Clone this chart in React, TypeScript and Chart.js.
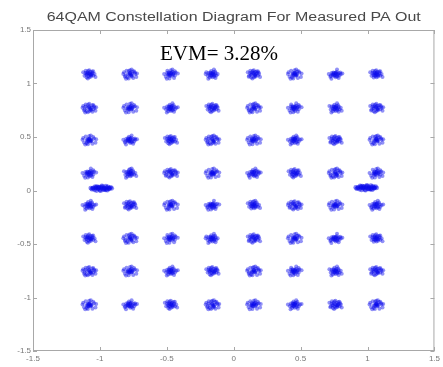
import { useEffect, useRef } from "react";
import { Chart, registerables } from "chart.js";

Chart.register(...registerables);

const TITLE = "64QAM Constellation Diagram For Measured PA Out";
const EVM_LABEL = "EVM= 3.28%";

const X_TICKS = [-1.5, -1, -0.5, 0, 0.5, 1, 1.5];
const Y_TICKS = [-1.5, -1, -0.5, 0, 0.5, 1, 1.5];

// In-phase (I) and quadrature (Q) cluster centres
const I_LEVELS = [-1.08, -0.775, -0.47, -0.16, 0.15, 0.455, 0.76, 1.065];
const Q_LEVELS = [1.085, 0.77, 0.47, 0.16, -0.14, -0.45, -0.755, -1.07];

// measured scatter around each symbol (hand-read offsets)
const NOISE: [number, number][] = [
  [0.004, 0.006], [-0.012, 0.010], [0.018, -0.004], [-0.006, -0.015], [0.025, 0.012],
  [-0.022, -0.003], [0.009, 0.022], [-0.015, 0.018], [0.031, -0.011], [-0.028, 0.014],
  [0.002, -0.026], [0.014, -0.019], [-0.035, -0.012], [0.040, 0.004], [-0.008, 0.032],
  [0.021, 0.027], [-0.019, -0.029], [0.006, 0.000], [-0.003, 0.008], [0.011, -0.008],
  [-0.045, 0.020], [0.047, -0.024], [0.000, 0.040], [-0.026, 0.034], [0.030, 0.030],
  [-0.010, -0.038], [0.016, 0.003], [-0.017, 0.001], [0.036, 0.017], [-0.038, -0.022],
  [0.007, -0.012], [-0.001, 0.015], [0.052, 0.009], [-0.050, 0.004], [0.024, -0.034],
  [-0.030, -0.040], [0.012, 0.045], [-0.006, -0.006], [0.003, 0.013], [-0.014, -0.010],
];

// two elongated extra clusters near I = ±1, Q = 0
const EXTRA_CENTERS: [number, number][] = [[-0.99, 0.02], [0.99, 0.025]];
const EXTRA_NOISE: [number, number][] = [
  [0.000, 0.000], [0.020, 0.004], [-0.020, -0.003], [0.040, 0.006], [-0.040, 0.002],
  [0.060, -0.004], [-0.060, 0.005], [0.070, 0.010], [-0.070, -0.008], [0.010, 0.016],
  [-0.010, -0.016], [0.030, -0.014], [-0.030, 0.015], [0.050, 0.014], [-0.050, -0.013],
  [0.015, -0.010], [-0.015, 0.011], [0.062, 0.002], [-0.062, -0.001], [0.045, -0.017],
  [-0.045, 0.017], [0.005, 0.022], [-0.005, -0.022], [0.078, 0.000], [-0.078, 0.003],
  [0.035, 0.020], [-0.035, -0.020], [0.025, 0.000], [-0.025, 0.000], [0.055, 0.000],
  [0.000, 0.010], [0.020, -0.010], [-0.020, 0.010], [0.040, -0.008], [-0.040, 0.008],
];

const POINTS_PER_SYMBOL = 28;

function buildSymbols() {
  const pts: { x: number; y: number }[] = [];
  Q_LEVELS.forEach((q, r) => {
    I_LEVELS.forEach((i, c) => {
      const k = r * I_LEVELS.length + c;
      for (let j = 0; j < POINTS_PER_SYMBOL; j++) {
        const off = NOISE[(k * 11 + j) % NOISE.length];
        pts.push({ x: i + off[0], y: q + off[1] });
      }
    });
  });
  return pts;
}

function buildExtra() {
  const pts: { x: number; y: number }[] = [];
  EXTRA_CENTERS.forEach(([cx, cy]) => {
    EXTRA_NOISE.forEach(([dx, dy]) => pts.push({ x: cx + dx, y: cy + dy }));
  });
  return pts;
}

const framePlugin = {
  id: "frame",
  afterDatasetsDraw(chart: any) {
    const { ctx, chartArea: a, scales } = chart;
    ctx.save();
    ctx.strokeStyle = "#a8a8a8";
    ctx.lineWidth = 1;
    ctx.strokeRect(a.left + 0.5, a.top + 0.5, a.right - a.left - 1, a.bottom - a.top - 1);
    const len = 4;
    ctx.beginPath();
    X_TICKS.forEach((v) => {
      const x = Math.round(scales.x.getPixelForValue(v)) + 0.5;
      ctx.moveTo(x, a.bottom);
      ctx.lineTo(x, a.bottom - len);
      ctx.moveTo(x, a.top);
      ctx.lineTo(x, a.top + len);
    });
    Y_TICKS.forEach((v) => {
      const y = Math.round(scales.y.getPixelForValue(v)) + 0.5;
      ctx.moveTo(a.left, y);
      ctx.lineTo(a.left + len, y);
      ctx.moveTo(a.right, y);
      ctx.lineTo(a.right - len, y);
    });
    ctx.stroke();

    // title
    ctx.font = "12px 'Liberation Sans', Arial, sans-serif";
    ctx.fillStyle = "#484848";
    ctx.textAlign = "center";
    ctx.textBaseline = "alphabetic";
    const w = ctx.measureText(TITLE).width;
    ctx.save();
    ctx.translate((a.left + a.right) / 2, 21);
    ctx.scale(374 / w, 1);
    ctx.fillText(TITLE, 0, 0);
    ctx.restore();

    // EVM annotation
    ctx.font = "21px 'Liberation Serif', 'Times New Roman', serif";
    ctx.fillStyle = "#000000";
    ctx.textAlign = "left";
    ctx.fillText(EVM_LABEL, 160, 60);
    ctx.restore();
  },
};

export default function App() {
  const ref = useRef<HTMLCanvasElement | null>(null);
  useEffect(() => {
    if (!ref.current) return;
    const tickFont = { family: "'Liberation Sans', Arial, sans-serif", size: 8 };
    const fmt = (v: any) => String(v);
    const chart = new Chart(ref.current, {
      type: "scatter",
      data: {
        datasets: [
          {
            data: buildSymbols(),
            backgroundColor: "rgba(10,10,235,0.45)",
            borderWidth: 0,
            pointRadius: 2,
          },
          {
            data: buildExtra(),
            backgroundColor: "rgba(10,10,235,0.5)",
            borderWidth: 0,
            pointRadius: 2.4,
          },
        ],
      },
      options: {
        animation: false,
        responsive: false,
        layout: { padding: { top: 30, right: 7, left: 0, bottom: 0 } },
        plugins: { legend: { display: false }, tooltip: { enabled: false }, title: { display: false } },
        scales: {
          x: {
            type: "linear",
            min: -1.5,
            max: 1.5,
            grid: { display: false, drawTicks: false },
            border: { display: false },
            afterBuildTicks: (s: any) => {
              s.ticks = X_TICKS.map((v) => ({ value: v }));
            },
            afterFit: (s: any) => {
              s.height = 16;
            },
            ticks: { font: tickFont, color: "#777777", padding: 3, autoSkip: false, maxRotation: 0, callback: fmt },
          },
          y: {
            type: "linear",
            min: -1.5,
            max: 1.5,
            grid: { display: false, drawTicks: false },
            border: { display: false },
            afterBuildTicks: (s: any) => {
              s.ticks = Y_TICKS.map((v) => ({ value: v }));
            },
            afterFit: (s: any) => {
              s.width = 33;
            },
            ticks: { font: tickFont, color: "#777777", padding: 2, autoSkip: false, callback: fmt },
          },
        },
      },
      plugins: [framePlugin],
    });
    return () => chart.destroy();
  }, []);
  return (
    <div style={{ position: "fixed", left: 0, top: 0, width: 443, height: 367, background: "#fff" }}>
      <canvas ref={ref} width={443} height={367} />
    </div>
  );
}
